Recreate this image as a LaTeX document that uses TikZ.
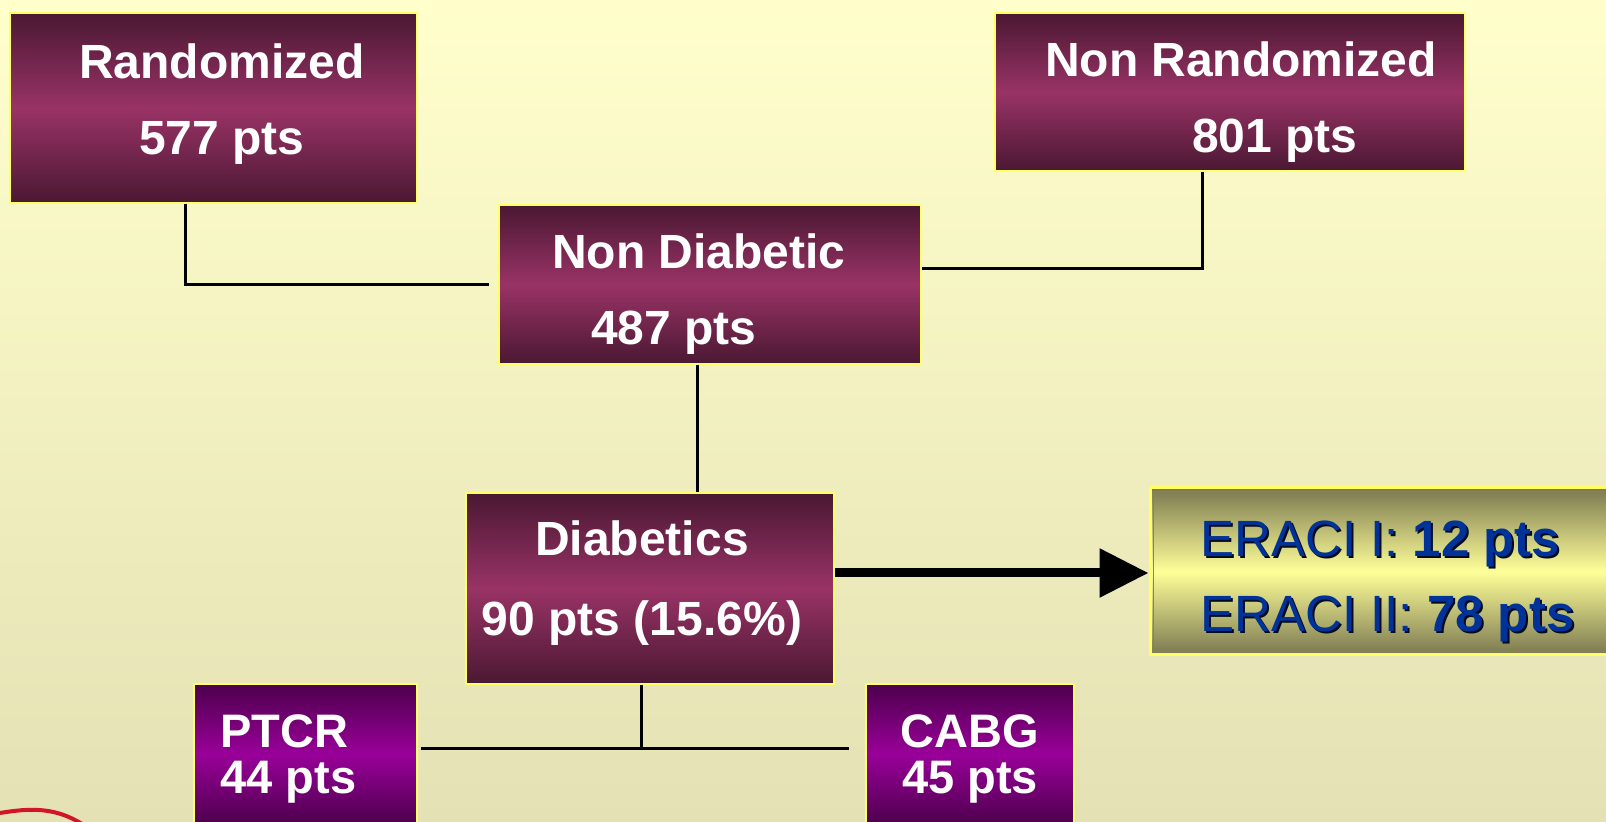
\documentclass[tikz,border=0pt]{standalone}
\usepackage{fontspec}
\setmainfont{Liberation Sans}
\usetikzlibrary{arrows.meta}
\definecolor{fondhaut}{RGB}{255,255,204}
\definecolor{fondbas}{RGB}{228,225,180}
\definecolor{bordure}{RGB}{255,255,102}
\definecolor{bordeaux}{RGB}{74,24,50}
\definecolor{bordeauxclair}{RGB}{153,51,102}
\definecolor{violet}{RGB}{77,0,77}
\definecolor{violetclair}{RGB}{153,0,153}
\definecolor{olive}{RGB}{122,120,80}
\definecolor{jaune}{RGB}{255,255,153}
\definecolor{bleu}{RGB}{0,51,153}
\definecolor{rouge}{RGB}{210,20,40}
\newcommand{\ombre}[1]{\makebox[0pt][l]{\hspace{1pt}\raisebox{-1pt}{\color{black!80!bleu}#1}}#1}

\begin{document}
\begin{tikzpicture}[x=0.5pt,y=-0.5pt]
\tikzset{boite/.style={draw=bordure, line width=0.75pt, top color=bordeaux, bottom color=bordeaux, middle color=bordeauxclair, inner sep=0pt}}
\tikzset{petiteboite/.style={boite, top color=violet, bottom color=violet, middle color=violetclair}}
\tikzset{texte/.style={text=white, font=\bfseries\fontsize{24}{38}\selectfont, align=center, inner sep=0pt}}
\tikzset{petittexte/.style={texte, font=\bfseries\fontsize{23.5}{23}\selectfont}}
\tikzset{trait/.style={draw=black, line width=1.5pt}}
\clip (0,0) rectangle (1606,822);
\shade[top color=fondhaut, bottom color=fondbas] (0,0) rectangle (1606,822);
% boites
\node[boite, minimum width=203.5pt, minimum height=95pt] (R) at (213.5,108) {};
\node[boite, minimum width=235pt, minimum height=79pt] (NR) at (1230,92) {};
\node[boite, minimum width=211pt, minimum height=79.5pt] (ND) at (710,284.5) {};
\node[boite, minimum width=184pt, minimum height=95.5pt] (D) at (650,588.5) {};
\node[draw=bordure, line width=1.5pt, top color=olive, bottom color=olive, middle color=jaune, minimum width=245pt, minimum height=83.5pt] (E) at (1395,571.5) {};
\draw[gray, line width=0.75pt] ([shift={(2.5pt,-2.5pt)}]E.north west) rectangle ([shift={(-2.5pt,2.5pt)}]E.south east);
\node[petiteboite, minimum width=111.5pt, minimum height=70pt] (P) at (305.5,754) {};
\node[petiteboite, minimum width=104pt, minimum height=70pt] (C) at (970,754) {};
% textes
\node[texte] (Rt) at (222,104.5) {Randomized\\577 pts};
\node[texte] (NRt) at (1241,102) {Non Randomized\\\hspace*{34pt}801 pts};
\node[texte] (NDt) at (699,294.5) {Non Diabetic\\\hspace*{-25pt}487 pts};
\node[texte, font=\bfseries\fontsize{24}{40}\selectfont] (Dt) at (642,583) {Diabetics\\90 pts (15.6\%)};
\node[texte, anchor=west, align=left, text=bleu, font=\fontsize{25.5}{37.5}\selectfont] (Et) at (1200,582) {\ombre{ERACI I: \textbf{12 pts}}\\\ombre{ERACI II: \textbf{78 pts}}};
\node[petittexte, anchor=west, align=left] (Pt) at (220,759) {PTCR\\44 pts};
\node[petittexte] (Ct) at (970,759) {CABG\\45 pts};
% liens
\coordinate (fourche) at (641,749);
\draw[trait] ([xshift=-14pt]R.south) |- ([xshift=-4.5pt]ND.west);
\draw[trait] ([xshift=-14pt]NR.south) |- ([yshift=8pt]ND.east);
\draw[trait] ([xshift=-6.5pt]ND.south) -- ([xshift=-6.5pt]ND.south |- D.north);
\draw[trait] ([xshift=-4.5pt]D.south) -- (fourche);
\draw[trait] ([xshift=1.5pt]P.east |- fourche) -- ([xshift=-8pt]C.west |- fourche);
\draw[line width=4.5pt, -{Triangle[length=24.5pt, width=23.5pt]}] ([yshift=7.75pt]D.east) -- ([yshift=7.75pt]D.east -| E.west);
\draw[rouge, line width=2pt] (0,813) .. controls (30,808) and (55,807) .. (82,824);
\end{tikzpicture}
\end{document}
